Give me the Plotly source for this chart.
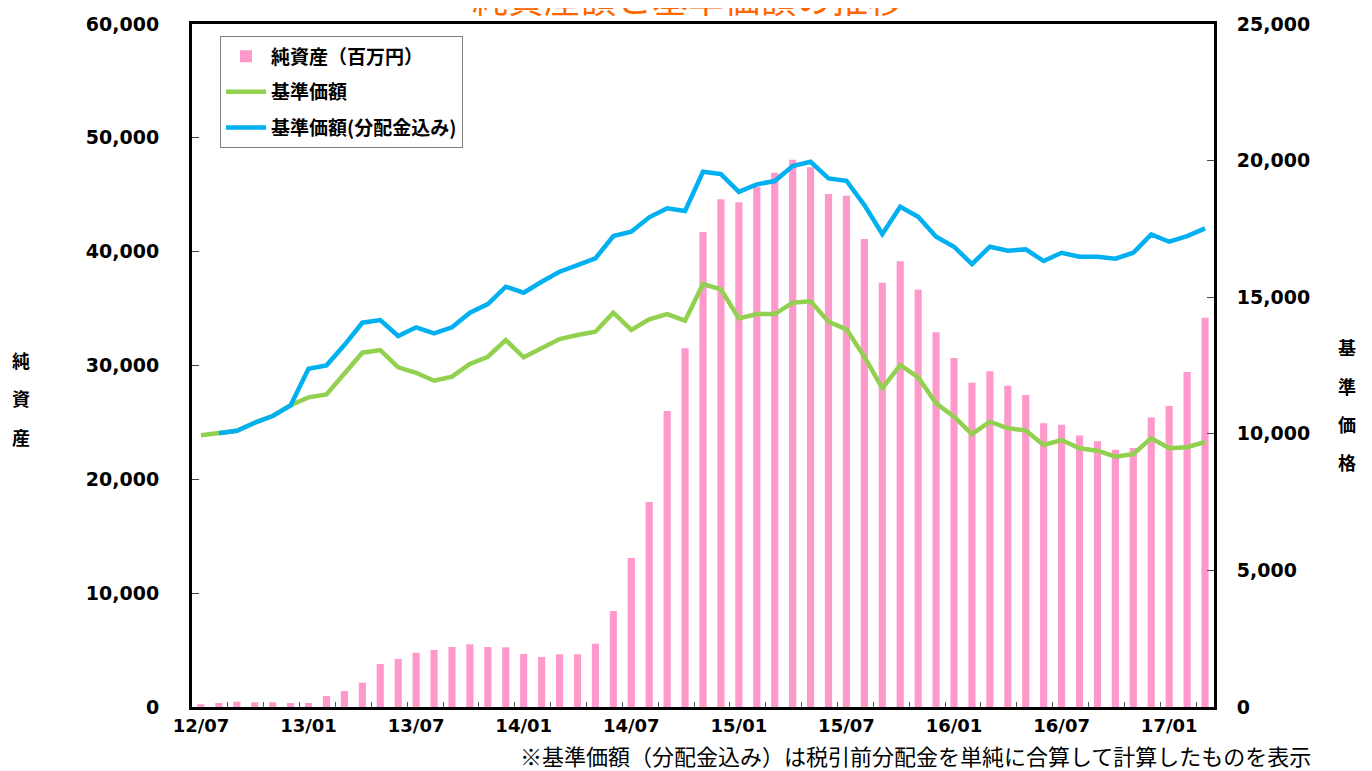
import plotly.graph_objects as go

months = [
    "12/07", "12/08", "12/09", "12/10", "12/11", "12/12",
    "13/01", "13/02", "13/03", "13/04", "13/05", "13/06",
    "13/07", "13/08", "13/09", "13/10", "13/11", "13/12",
    "14/01", "14/02", "14/03", "14/04", "14/05", "14/06",
    "14/07", "14/08", "14/09", "14/10", "14/11", "14/12",
    "15/01", "15/02", "15/03", "15/04", "15/05", "15/06",
    "15/07", "15/08", "15/09", "15/10", "15/11", "15/12",
    "16/01", "16/02", "16/03", "16/04", "16/05", "16/06",
    "16/07", "16/08", "16/09", "16/10", "16/11", "16/12",
    "17/01", "17/02", "17/03",
]

net_assets = [
    240, 350, 470, 410, 410, 350,
    350, 970, 1400, 2140, 3780, 4220,
    4770, 5010, 5270, 5510, 5270, 5240,
    4660, 4390, 4630, 4630, 5560, 8430,
    13100, 18010, 26000, 31510, 41730, 44600,
    44340, 45710, 46940, 48080, 47410, 45070,
    44920, 41110, 37280, 39150, 36660, 32920,
    30660, 28490, 29490, 28230, 27410, 24920,
    24800, 23860, 23350, 22600, 22750, 25430,
    26450, 29430, 34200,
]

nav = [
    9945, 10017, 10113, 10406, 10651, 11043,
    11335, 11444, 12188, 12968, 13066, 12433,
    12235, 11943, 12090, 12554, 12821, 13432,
    12799, 13129, 13469, 13615, 13736, 14432,
    13800, 14189, 14384, 14139, 15482, 15288,
    14226, 14384, 14384, 14798, 14848, 14102,
    13824, 12821, 11665, 12518, 12067, 11116,
    10626, 9992, 10443, 10199, 10125, 9589,
    9772, 9468, 9381, 9161, 9260, 9840,
    9468, 9510, 9700,
]

nav_with_dist = [
    None, 10017, 10113, 10406, 10651, 11043,
    12382, 12506, 13249, 14066, 14164, 13579,
    13897, 13677, 13897, 14432, 14750, 15383,
    15163, 15566, 15932, 16177, 16422, 17239,
    17396, 17923, 18253, 18154, 19592, 19508,
    18860, 19131, 19252, 19801, 19958, 19350,
    19262, 18373, 17312, 18311, 17945, 17213,
    16847, 16214, 16847, 16701, 16750, 16324,
    16627, 16481, 16481, 16408, 16627, 17301,
    17031, 17239, 17520,
]

label_months = ["12/07", "13/01", "13/07", "14/01", "14/07",
                "15/01", "15/07", "16/01", "16/07", "17/01"]
left_ticks = [0, 10000, 20000, 30000, 40000, 50000, 60000]
right_ticks = [0, 5000, 10000, 15000, 20000, 25000]

title_text = "純資産額と基準価額の推移"
left_title = ["純", "資", "産"]
right_title = ["基", "準", "価", "格"]
note_text = "※基準価額（分配金込み）は税引前分配金を単純に合算して計算したものを表示"

idx = list(range(len(months)))
tick_pos = [months.index(m) for m in label_months]
boundary_pos = [i - 0.5 for i in idx if i > 0 and i % 2 == 0]

NUM_FONT = "DejaVu Sans, Noto Sans CJK JP, sans-serif"
JP_FONT = "Noto Sans CJK JP, DejaVu Sans, sans-serif"

fig = go.Figure()
fig.add_trace(go.Bar(
    x=idx, y=net_assets, name="純資産（百万円）",
    marker=dict(color="#FF99CC", line=dict(width=0)),
    width=0.4, legendgroup="a", yaxis="y",
))
fig.add_trace(go.Scatter(
    x=idx, y=nav, name="基準価額", mode="lines",
    line=dict(color="#92D050", width=4.5), legendgroup="b", yaxis="y2",
))
fig.add_trace(go.Scatter(
    x=idx, y=nav_with_dist, name="基準価額(分配金込み)", mode="lines",
    line=dict(color="#00B0F0", width=4.5), legendgroup="c", yaxis="y2",
))

axis_line = dict(showline=True, linecolor="black", linewidth=3)

# the page body has an 8px margin; margins below compensate for it
fig.update_layout(
    width=1372, height=771,
    margin=dict(l=184, r=166, t=16, b=72, autoexpand=False),
    paper_bgcolor="white", plot_bgcolor="white",
    showlegend=True,
    legend=dict(
        x=0.0274, y=0.982, xanchor="left", yanchor="top",
        bordercolor="#808080", borderwidth=1, bgcolor="white",
        font=dict(family=JP_FONT, size=19, color="black", weight="bold"),
        tracegroupgap=8, itemwidth=40,
    ),
    xaxis=dict(
        range=[-0.5, len(months) - 0.5],
        tickmode="array", tickvals=tick_pos, ticktext=label_months,
        ticks="", showgrid=False, zeroline=False, mirror=True,
        tickfont=dict(family=NUM_FONT, size=18, color="black", weight="bold"),
        minor=dict(tickmode="array", tickvals=boundary_pos, ticks="inside",
                   ticklen=5, tickwidth=1, tickcolor="#555", showgrid=False),
        **axis_line,
    ),
    yaxis=dict(
        range=[0, 60000], tickmode="array", tickvals=left_ticks,
        tickformat=",", ticks="inside", ticklen=7, tickwidth=1, tickcolor="#444",
        showgrid=False, zeroline=False, mirror=True,
        ticklabelstandoff=26,
        tickfont=dict(family=NUM_FONT, size=19, color="black", weight="bold"),
        **axis_line,
    ),
    yaxis2=dict(
        range=[0, 25000], tickmode="array", tickvals=right_ticks,
        tickformat=",", ticks="inside", ticklen=7, tickwidth=1, tickcolor="#444",
        overlaying="y", side="right", showgrid=False, zeroline=False,
        ticklabelstandoff=16,
        tickfont=dict(family=NUM_FONT, size=19, color="black", weight="bold"),
        **axis_line,
    ),
)

annotations = []
annotations.append(dict(
    text=title_text, xref="paper", yref="paper", x=0.4853, y=1.040,
    xanchor="center", yanchor="middle", showarrow=False,
    font=dict(family=JP_FONT, size=36, color="#FF6600"),
))
for k, ch in enumerate(left_title):
    annotations.append(dict(
        text=ch, xref="paper", yref="paper",
        x=(21 - 192) / 1022, y=(707 - (360 + 38.5 * k)) / 683,
        xanchor="center", yanchor="middle", showarrow=False,
        font=dict(family=JP_FONT, size=18, color="black", weight="bold"),
    ))
for k, ch in enumerate(right_title):
    annotations.append(dict(
        text=ch, xref="paper", yref="paper",
        x=(1347 - 192) / 1022, y=(707 - (347 + 38.5 * k)) / 683,
        xanchor="center", yanchor="middle", showarrow=False,
        font=dict(family=JP_FONT, size=18, color="black", weight="bold"),
    ))
annotations.append(dict(
    text=note_text, xref="paper", yref="paper",
    x=(1313 - 192) / 1022, y=(707 - 755) / 683,
    xanchor="right", yanchor="middle", showarrow=False,
    font=dict(family=JP_FONT, size=22, color="black"),
))
fig.update_layout(annotations=annotations)

fig.write_html("out.html")
